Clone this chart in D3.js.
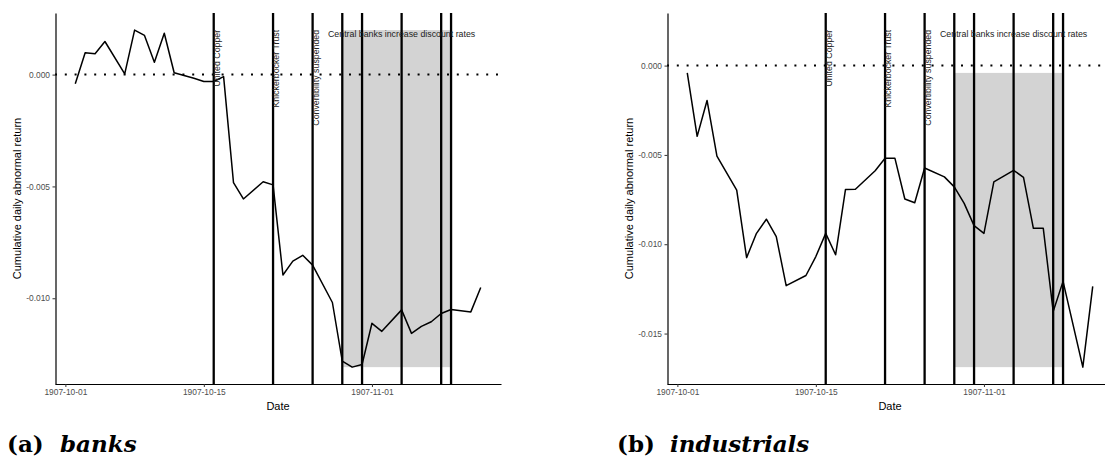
<!DOCTYPE html>
<html>
<head>
<meta charset="utf-8">
<script src="https://cdn.jsdelivr.net/npm/d3@7"></script>
<style>
  body { margin: 0; background: #fff; }
  svg { display: block; font-family: "Liberation Sans", Arial, sans-serif; }
</style>
</head>
<body>
<div id="chart"></div>
<script>
// trading days, Oct 2 - Nov 12 1907 (Saturdays open, Sundays closed)
const dates = [
  "1907-10-02", "1907-10-03", "1907-10-04", "1907-10-05", "1907-10-07", "1907-10-08",
  "1907-10-09", "1907-10-10", "1907-10-11", "1907-10-12", "1907-10-14", "1907-10-15",
  "1907-10-16", "1907-10-17", "1907-10-18", "1907-10-19", "1907-10-21", "1907-10-22",
  "1907-10-23", "1907-10-24", "1907-10-25", "1907-10-26", "1907-10-28", "1907-10-29",
  "1907-10-30", "1907-10-31", "1907-11-01", "1907-11-02", "1907-11-04", "1907-11-05",
  "1907-11-06", "1907-11-07", "1907-11-08", "1907-11-09", "1907-11-11", "1907-11-12"
]

const banks = [
  -0.00041, 0.00098, 0.00093, 0.00148, 0.00003, 0.00199, 0.00175, 0.00055, 0.00185, 0.00008,
  -0.00016, -0.00031, -0.00031, -0.00009, -0.00483, -0.00556, -0.00479, -0.00493, -0.00896, -0.00834,
  -0.00808, -0.00852, -0.01019, -0.01281, -0.01308, -0.01296, -0.01112, -0.01148, -0.01052, -0.01157,
  -0.01126, -0.01105, -0.01068, -0.01050, -0.01061, -0.00952
]

const industrials = [
  -0.00041, -0.00396, -0.00195, -0.00507, -0.00697, -0.01075, -0.00939, -0.00860, -0.00957, -0.01232,
  -0.01175, -0.01069, -0.00939, -0.01059, -0.00693, -0.00692, -0.00589, -0.00519, -0.00519, -0.00747,
  -0.00768, -0.00573, -0.00623, -0.00679, -0.00771, -0.00896, -0.00939, -0.00651, -0.00586, -0.00626,
  -0.00911, -0.00911, -0.01376, -0.01208, -0.01688, -0.01236
]

const eventDates = ["1907-10-16", "1907-10-22", "1907-10-26", "1907-10-29",
                    "1907-10-31", "1907-11-04", "1907-11-08", "1907-11-09"]
const eventNames = ["United Copper", "Knickerbocker Trust", "Convertibility suspended"]
const rateWindow = ["1907-10-29", "1907-11-09"]
const rateLabel = "Central banks increase discount rates"
const rateLabelDate = "1907-11-04"
const labelLevel = 0.002

const xTicks = ["1907-10-01", "1907-10-15", "1907-11-01"]
const yTicksBanks = [0, -0.005, -0.010]
const yTicksIndustrials = [0, -0.005, -0.010, -0.015]

const captions = [["(a)", "banks"], ["(b)", "industrials"]]

const parse = d3.utcParse("%Y-%m-%d")
const width = 1105, height = 463
const plotTop = 13, plotBottom = 384

const svg = d3.select("#chart").append("svg")
    .attr("width", width)
    .attr("height", height)

svg.append("rect").attr("width", width).attr("height", height).attr("fill", "#fff")

function pad(ext) {
    const d = (ext[1] - ext[0]) * 0.05
    return [ext[0] - d, ext[1] + d]
}

function panel(values, yTicks, left, caption, capX) {
    const right = left + 446
    const data = dates.map((d, i) => ({ date: parse(d), value: values[i] }))

    const tExt = d3.extent(data, d => +d.date), tPad = (tExt[1] - tExt[0]) * 0.05
    const x = d3.scaleUtc()
        .domain([new Date(tExt[0] - tPad), new Date(tExt[1] + tPad)])
        .range([left, right])
    const y = d3.scaleLinear()
        .domain(pad(d3.extent(values.concat([labelLevel]))))
        .range([plotBottom, plotTop])

    const g = svg.append("g")
    const vExt = d3.extent(values)

    // shaded window of rate increases
    g.append("rect")
        .attr("x", x(parse(rateWindow[0])))
        .attr("width", x(parse(rateWindow[1])) - x(parse(rateWindow[0])))
        .attr("y", y(vExt[1]))
        .attr("height", y(vExt[0]) - y(vExt[1]))
        .attr("fill", "#d3d3d3")

    g.append("line")
        .attr("x1", left).attr("x2", right)
        .attr("y1", y(0)).attr("y2", y(0))
        .attr("stroke", "#000")
        .attr("stroke-width", 2)
        .attr("stroke-dasharray", "2,7.8")

    g.selectAll(".event").data(eventDates).join("line")
        .attr("class", "event")
        .attr("x1", d => x(parse(d))).attr("x2", d => x(parse(d)))
        .attr("y1", plotTop).attr("y2", plotBottom)
        .attr("stroke", "#000")
        .attr("stroke-width", 2.3)

    g.append("path")
        .datum(data)
        .attr("fill", "none")
        .attr("stroke", "#000")
        .attr("stroke-width", 1.5)
        .attr("stroke-linejoin", "round")
        .attr("d", d3.line().x(d => x(d.date)).y(d => y(d.value)))

    g.selectAll(".evlabel").data(eventNames).join("text")
        .attr("class", "evlabel")
        .attr("transform", (d, i) => `translate(${x(parse(eventDates[i])) + 6.3},${y(labelLevel)}) rotate(-90)`)
        .attr("text-anchor", "end")
        .attr("font-size", 8.8)
        .attr("fill", "#222")
        .text(d => d)

    g.append("text")
        .attr("x", x(parse(rateLabelDate)))
        .attr("y", y(labelLevel) + 7)
        .attr("text-anchor", "middle")
        .attr("font-size", 8.8)
        .attr("fill", "#222")
        .text(rateLabel)

    // axes
    const xAxis = g.append("g")
        .attr("transform", `translate(0,${plotBottom})`)
        .call(d3.axisBottom(x).tickValues(xTicks.map(parse))
            .tickFormat(d3.utcFormat("%Y-%m-%d")).tickSize(3).tickSizeOuter(0).tickPadding(2.5))
    xAxis.select(".domain").attr("stroke", "#000").attr("stroke-width", 1.1)
    xAxis.selectAll(".tick line").attr("stroke", "#333")
    xAxis.selectAll("text").attr("font-size", 8.4).attr("fill", "#4d4d4d")
        .attr("font-family", "Liberation Sans, Arial, sans-serif")

    const yAxis = g.append("g")
        .attr("transform", `translate(${left + 0.5},0)`)
        .call(d3.axisLeft(y).tickValues(yTicks)
            .tickFormat(d => d.toFixed(3)).tickSize(3).tickSizeOuter(0).tickPadding(2.5))
    yAxis.select(".domain").attr("stroke", "#000").attr("stroke-width", 1.2)
    yAxis.selectAll(".tick line").attr("stroke", "#333")
    yAxis.selectAll("text").attr("font-size", 8.4).attr("fill", "#4d4d4d")
        .attr("font-family", "Liberation Sans, Arial, sans-serif")

    g.append("text")
        .attr("x", (left + right) / 2)
        .attr("y", 410)
        .attr("text-anchor", "middle")
        .attr("font-size", 11)
        .text("Date")

    g.append("text")
        .attr("transform", `translate(${left - 38},${(plotTop + plotBottom) / 2}) rotate(-90)`)
        .attr("text-anchor", "middle")
        .attr("dominant-baseline", "central")
        .attr("font-size", 11)
        .text("Cumulative daily abnormal return")

    // sub-figure caption
    const cap = svg.append("g")
        .attr("font-family", "DejaVu Serif, serif")
        .attr("font-weight", "bold")
        .attr("font-size", 23)
    cap.append("text").attr("x", capX).attr("y", 452).text(caption[0])
    cap.append("text").attr("x", capX + 53).attr("y", 452)
        .attr("font-style", "italic").text(caption[1])
}

panel(banks, yTicksBanks, 55, captions[0], 7)
panel(industrials, yTicksIndustrials, 667, captions[1], 617)
</script>
</body>
</html>
